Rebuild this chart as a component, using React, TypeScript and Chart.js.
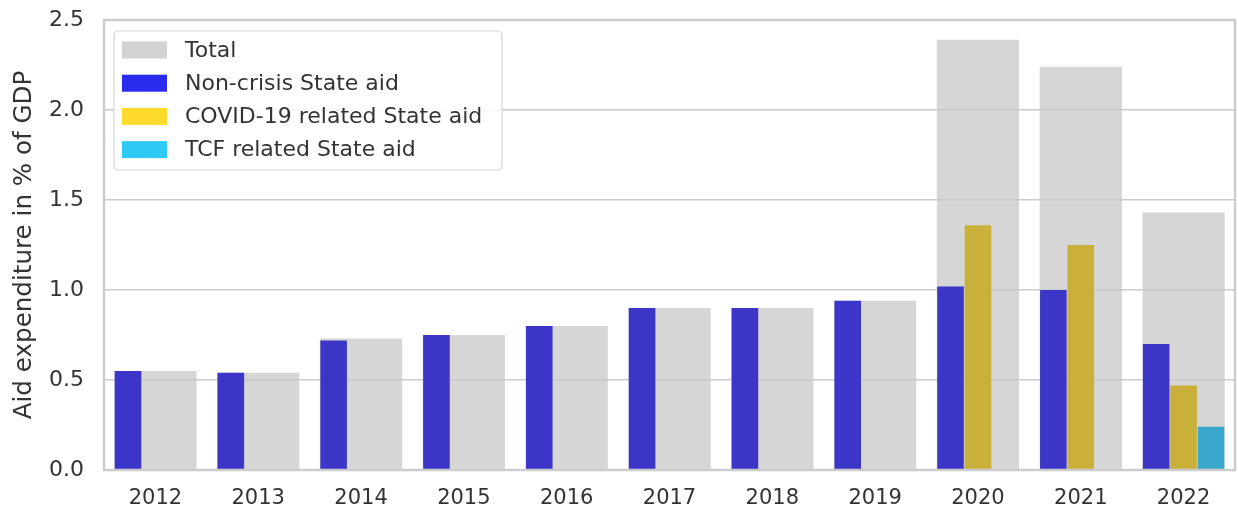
import React, { useEffect, useRef } from "react";
import { Chart, registerables } from "chart.js";

Chart.register(...registerables);

const years = ["2012", "2013", "2014", "2015", "2016", "2017", "2018", "2019", "2020", "2021", "2022"];
const totalAid = [0.55, 0.54, 0.73, 0.75, 0.8, 0.9, 0.9, 0.94, 2.39, 2.24, 1.43];
const nonCrisisAid = [0.55, 0.54, 0.72, 0.75, 0.8, 0.9, 0.9, 0.94, 1.02, 1.0, 0.7];
const covidAid = [null, null, null, null, null, null, null, null, 1.36, 1.25, 0.47];
const tcfAid = [null, null, null, null, null, null, null, null, null, null, 0.24];
const yTicks = [0, 0.5, 1.0, 1.5, 2.0, 2.5];

const seriesNames = ["Total", "Non-crisis State aid", "COVID-19 related State aid", "TCF related State aid"];
const legendColors = ["#d2d2d2", "#2b2bef", "#fcdb2c", "#2ec9f5"];

const FONT = "'DejaVu Sans', Verdana, sans-serif";

const framePlugin = {
  id: "frame",
  afterDraw(chart: any) {
    const { ctx, chartArea: a } = chart;
    ctx.save();
    ctx.strokeStyle = "#cccccc";
    ctx.lineWidth = 2.5;
    ctx.strokeRect(a.left, a.top, a.right - a.left, a.bottom - a.top);
    ctx.restore();
  },
};

const legendPlugin = {
  id: "insideLegend",
  afterDraw(chart: any) {
    const { ctx, chartArea: a } = chart;
    const x = a.left + 10;
    const y = a.top + 11;
    const w = 388;
    const h = 139;
    ctx.save();
    ctx.beginPath();
    ctx.roundRect(x, y, w, h, 4);
    ctx.fillStyle = "rgba(255,255,255,0.85)";
    ctx.fill();
    ctx.strokeStyle = "#d6d6d6";
    ctx.lineWidth = 1.2;
    ctx.stroke();
    ctx.font = `22px ${FONT}`;
    ctx.textBaseline = "middle";
    ctx.textAlign = "left";
    seriesNames.forEach((name, i) => {
      const cy = y + 19 + i * 33.2;
      ctx.fillStyle = legendColors[i];
      ctx.fillRect(x + 8, cy - 8.5, 45, 17);
      ctx.fillStyle = "#333333";
      ctx.fillText(name, x + 71, cy + 1);
    });
    ctx.restore();
  },
};

export default function App() {
  const ref = useRef<HTMLCanvasElement>(null);
  useEffect(() => {
    if (!ref.current) return;
    const chart = new Chart(ref.current, {
      type: "bar",
      data: {
        labels: years,
        datasets: [
          {
            label: seriesNames[0],
            data: totalAid,
            backgroundColor: "rgba(200,200,200,0.75)",
            barPercentage: 0.8,
            categoryPercentage: 1,
            grouped: false,
            order: 1,
          },
          {
            label: seriesNames[1],
            data: nonCrisisAid,
            backgroundColor: "#3b36c8",
            barPercentage: 0.97,
            categoryPercentage: 0.8,
            order: 0,
          },
          {
            label: seriesNames[2],
            data: covidAid as any,
            backgroundColor: "#c8b03a",
            barPercentage: 0.97,
            categoryPercentage: 0.8,
            order: 0,
          },
          {
            label: seriesNames[3],
            data: tcfAid as any,
            backgroundColor: "#3aa7cc",
            barPercentage: 0.97,
            categoryPercentage: 0.8,
            order: 0,
          },
        ],
      },
      options: {
        animation: false,
        responsive: true,
        maintainAspectRatio: false,
        layout: { padding: { top: 20, right: 3, left: 0, bottom: 0 } },
        plugins: {
          legend: { display: false },
          tooltip: { enabled: false },
        },
        scales: {
          x: {
            type: "category",
            grid: { display: false, drawTicks: false },
            border: { display: false },
            ticks: { color: "#333333", font: { family: FONT, size: 21 }, padding: 16, maxRotation: 0 },
            afterFit: (s: any) => {
              s.height = 40;
              s.paddingLeft = 0;
              s.paddingRight = 0;
            },
          },
          y: {
            min: 0,
            max: 2.5,
            afterBuildTicks: (s: any) => {
              s.ticks = yTicks.map((v) => ({ value: v }));
            },
            grid: { color: "#cccccc", lineWidth: 1.5, drawTicks: false },
            border: { display: false },
            ticks: {
              color: "#333333",
              font: { family: FONT, size: 22 },
              padding: 20,
              callback: (v: any) => Number(v).toFixed(1),
            },
            title: {
              display: true,
              text: "Aid expenditure in % of GDP",
              color: "#333333",
              font: { family: FONT, size: 24.6 },
              padding: { top: 10, bottom: 0 },
            },
            afterFit: (s: any) => {
              s.width = 104;
              s.paddingTop = 0;
              s.paddingBottom = 0;
            },
          },
        },
      },
      plugins: [framePlugin, legendPlugin],
    });
    return () => chart.destroy();
  }, []);
  return (
    <div style={{ position: "fixed", left: 0, top: 0, width: 1238, height: 510, background: "#ffffff" }}>
      <canvas ref={ref} />
    </div>
  );
}
